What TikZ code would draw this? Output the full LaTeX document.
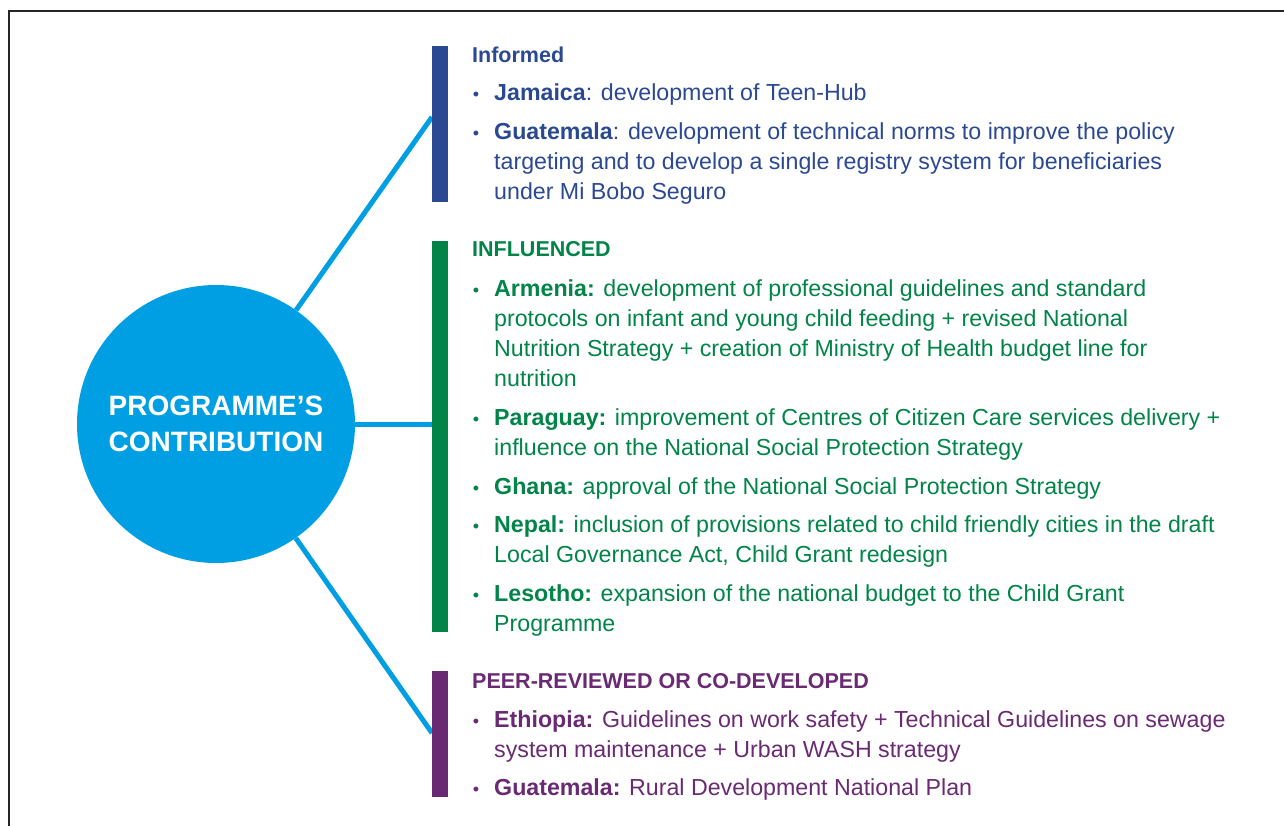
\documentclass[tikz,border=0pt]{standalone}
\usepackage{fontspec}
\setmainfont{Liberation Sans}
\usetikzlibrary{positioning}
\definecolor{circblue}{RGB}{0,159,227}
\definecolor{infoblue}{RGB}{43,73,147}
\definecolor{inflgreen}{RGB}{0,132,72}
\definecolor{peerpurple}{RGB}{106,42,115}
\newcommand*{\bul}{\llap{{\fontsize{18}{18}\selectfont\textbullet}\hspace{15pt}}}
\newcommand*{\lines}[1]{\begin{tabular}[t]{@{}l@{}}#1\end{tabular}}

\begin{document}
\begin{tikzpicture}[x=1pt,y=-1pt]
\tikzstyle bar=[rectangle,inner sep=0pt,minimum width=16pt]
\tikzstyle head=[anchor=base west,inner sep=0pt,font=\fontsize{21.5}{30}\selectfont\bfseries]
\tikzstyle item=[anchor=base west,inner sep=0pt,font=\fontsize{23.2}{30}\selectfont]
\tikzstyle spoke=[circblue,line width=5pt]
\useasboundingbox (0,0) rectangle (1284,826);
\draw[black!85,line width=1.2pt] (9,826) -- (9,11) -- (1284,11);
% ends of the spokes
\coordinate (infoend) at (432,117);
\coordinate (inflend) at (432,424);
\coordinate (peerend) at (432,733);
\node[circle,fill=circblue,minimum size=278pt,inner sep=0pt,text=white,align=center,
  font=\fontsize{28}{36}\selectfont\bfseries] (prog) at (216,424) {PROGRAMME’S\\CONTRIBUTION};
\draw[spoke] (prog) -- (infoend);
\draw[spoke] (prog) -- (inflend);
\draw[spoke] (prog) -- (peerend);
\node[bar,fill=infoblue,minimum height=156pt] (infobar) at (440,124) {};
\node[bar,fill=inflgreen,minimum height=391pt] (inflbar) at (440,436.5) {};
\node[bar,fill=peerpurple,minimum height=126pt] (peerbar) at (440,734) {};
% informed
\node[head,text=infoblue] (informed) at (472,63) {Informed};
\node[item,text=infoblue] (jamaica) at (494,101) {\bul\textbf{Jamaica}: development of Teen-Hub};
\node[item,text=infoblue] (guatemala) at (494,140) {\lines{\bul\textbf{Guatemala}: development of technical norms to improve the policy\\targeting and to develop a single registry system for beneficiaries\\under Mi Bobo Seguro}};
% influenced
\node[head,text=inflgreen] (influenced) at (472,257) {INFLUENCED};
\node[item,text=inflgreen] (armenia) at (494,296) {\lines{\bul\textbf{Armenia:} development of professional guidelines and standard\\protocols on infant and young child feeding + revised National\\Nutrition Strategy + creation of Ministry of Health budget line for\\nutrition}};
\node[item,text=inflgreen] (paraguay) at (494,425) {\lines{\bul\textbf{Paraguay:} improvement of Centres of Citizen Care services delivery +\\influence on the National Social Protection Strategy}};
\node[item,text=inflgreen] (ghana) at (494,494) {\bul\textbf{Ghana:} approval of the National Social Protection Strategy};
\node[item,text=inflgreen] (nepal) at (494,532) {\lines{\bul\textbf{Nepal:} inclusion of provisions related to child friendly cities in the draft\\Local Governance Act, Child Grant redesign}};
\node[item,text=inflgreen] (lesotho) at (494,601) {\lines{\bul\textbf{Lesotho:} expansion of the national budget to the Child Grant\\Programme}};
% peer-reviewed
\node[head,text=peerpurple] (peer) at (472,688) {PEER-REVIEWED OR CO-DEVELOPED};
\node[item,text=peerpurple] (ethiopia) at (494,727) {\lines{\bul\textbf{Ethiopia:} Guidelines on work safety + Technical Guidelines on sewage\\system maintenance + Urban WASH strategy}};
\node[item,text=peerpurple] (guatemalab) at (494,795) {\bul\textbf{Guatemala:} Rural Development National Plan};
\end{tikzpicture}
\end{document}
